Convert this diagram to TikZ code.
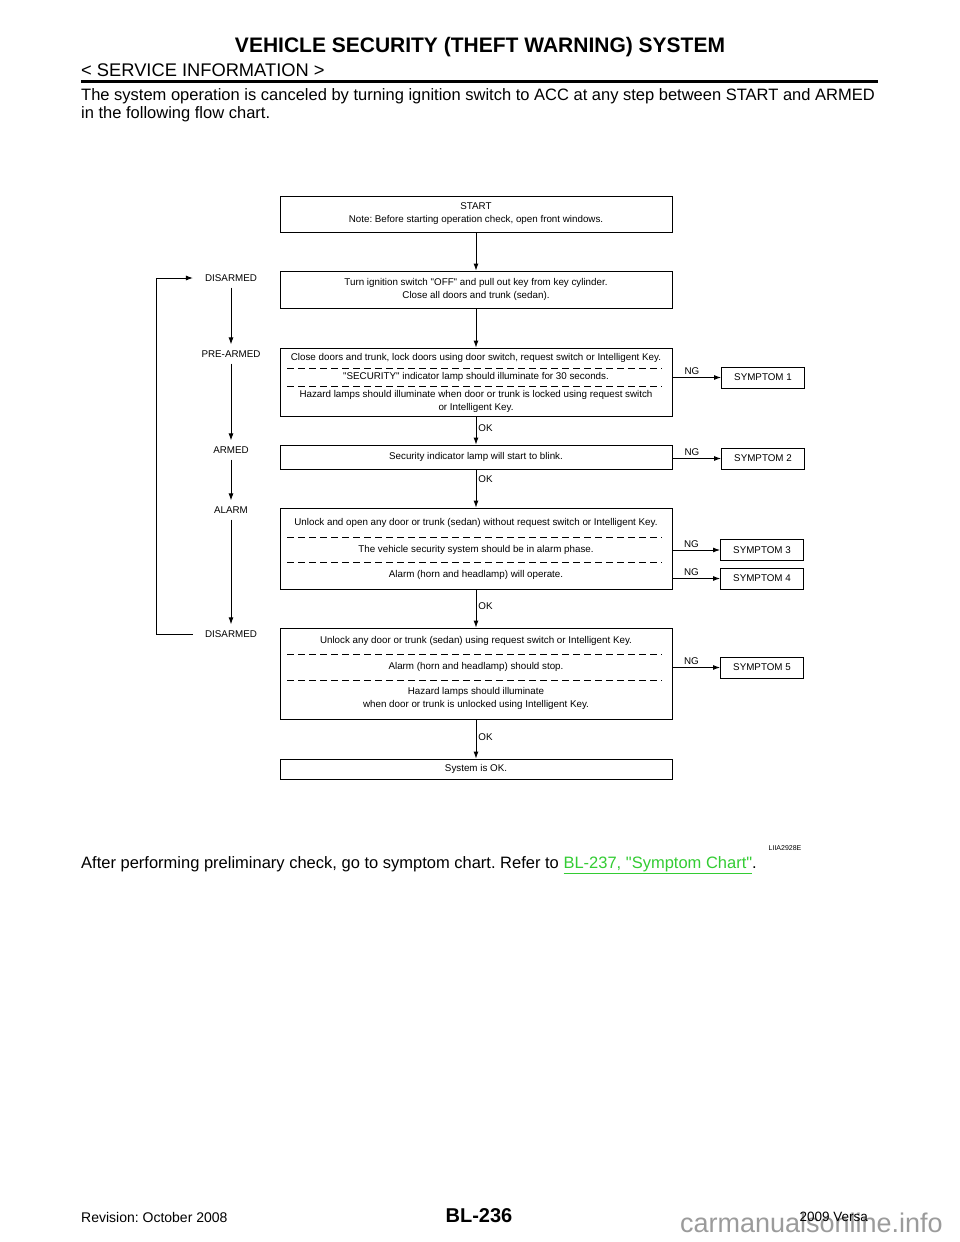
\documentclass[tikz,border=0pt]{standalone}
\usepackage{fontspec}
\setmainfont{Liberation Sans}
\usepackage{xcolor}
\usetikzlibrary{arrows.meta}
\definecolor{manualGreen}{RGB}{51, 204, 51}
\definecolor{manualGray}{RGB}{155, 155, 155}
\frenchspacing

\begin{document}
\begin{tikzpicture}[x=1pt, y=-1pt,
    stepbox/.style={draw, line width=0.9pt, minimum width=392pt, inner sep=0pt, align=center, font=\fontsize{9.8}{13}\selectfont},
    sympbox/.style={draw, line width=0.9pt, minimum width=83pt, minimum height=21pt, inner sep=0pt, font=\fontsize{9.8}{12}\selectfont},
    txt/.style={inner sep=0pt, align=center, font=\fontsize{9.8}{13}\selectfont},
    state/.style={inner xsep=12pt, inner ysep=6pt, font=\fontsize{9.8}{12}\selectfont},
    lbl/.style={inner sep=2pt, font=\fontsize{9.8}{12}\selectfont},
    flow/.style={line width=0.9pt, -{Latex[length=7pt, width=5pt]}},
    sep/.style={line width=0.7pt, dash pattern=on 7pt off 4pt}]
    \fill[white] (0,0) rectangle (960,1242);
    \useasboundingbox (0,0) rectangle (960,1242);

    \node[anchor=base, font=\bfseries\fontsize{21}{25}\selectfont] (title) at (480,52) {VEHICLE SECURITY (THEFT WARNING) SYSTEM};
    \node[anchor=base west, inner sep=0pt, font=\fontsize{18.3}{22}\selectfont] (section) at (81,76.5) {< SERVICE INFORMATION >};
    \draw[line width=2.5pt] (81,81.5) -- (878,81.5);
    \node[anchor=base west, inner sep=0pt, font=\fontsize{16.5}{18}\selectfont] (intro1) at (81,100) {The system operation is canceled by turning ignition switch to ACC at any step between START and ARMED};
    \node[anchor=base west, inner sep=0pt, font=\fontsize{16.5}{18}\selectfont] (intro2) at (81,118) {in the following flow chart.};

    \node[stepbox, minimum height=36pt] (start) at (476,214) {START\\Note: Before starting operation check, open front windows.};
    \node[stepbox, minimum height=37pt] (ignoff) at (476,289.5) {Turn ignition switch \textquotedbl OFF\textquotedbl{} and pull out key from key cylinder.\\Close all doors and trunk (sedan).};
    \node[stepbox, minimum height=68pt] (prearm) at (476,382) {};
    \node[txt] (prearm1) at (476,358) {Close doors and trunk, lock doors using door switch, request switch or Intelligent Key.};
    \node[txt] (prearm2) at (476,377) {\textquotedbl SECURITY\textquotedbl{} indicator lamp should illuminate for 30 seconds.};
    \node[txt] (prearm3) at (476,401.5) {Hazard lamps should illuminate when door or trunk is locked using request switch\\or Intelligent Key.};
    \node[stepbox, minimum height=24pt] (armed) at (476,457) {Security indicator lamp will start to blink.};
    \node[stepbox, minimum height=81pt] (alarm) at (476,548.5) {};
    \node[txt] (alarm1) at (476,523) {Unlock and open any door or trunk (sedan) without request switch or Intelligent Key.};
    \node[txt] (alarm2) at (476,550) {The vehicle security system should be in alarm phase.};
    \node[txt] (alarm3) at (476,575) {Alarm (horn and headlamp) will operate.};
    \node[stepbox, minimum height=91pt] (disarm) at (476,673.5) {};
    \node[txt] (disarm1) at (476,641) {Unlock any door or trunk (sedan) using request switch or Intelligent Key.};
    \node[txt] (disarm2) at (476,667) {Alarm (horn and headlamp) should stop.};
    \node[txt] (disarm3) at (476,698.5) {Hazard lamps should illuminate\\when door or trunk is unlocked using Intelligent Key.};
    \node[stepbox, minimum height=20pt] (sysok) at (476,769) {System is OK.};
    \foreach \y in {368,386,537,562,654,680}
        \draw[sep] (287,\y) -- (662,\y);

    \node[sympbox] (sym1) at (763,377.5) {SYMPTOM 1};
    \node[sympbox] (sym2) at (763,458.5) {SYMPTOM 2};
    \node[sympbox] (sym3) at (762,550) {SYMPTOM 3};
    \node[sympbox] (sym4) at (762,578.5) {SYMPTOM 4};
    \node[sympbox] (sym5) at (762,667.5) {SYMPTOM 5};

    \draw[flow] (start.south) -- (ignoff.north);
    \draw[flow] (ignoff.south) -- (prearm.north);
    \draw[flow] (prearm.south) -- node[lbl, right, pos=0.4] {OK} (armed.north);
    \draw[flow] (armed.south) -- node[lbl, right, pos=0.25] {OK} (alarm.north);
    \draw[flow] (alarm.south) -- node[lbl, right, pos=0.45] {OK} (disarm.north);
    \draw[flow] (disarm.south) -- node[lbl, right, pos=0.45] {OK} (sysok.north);
    \foreach \b/\s in {prearm/sym1, armed/sym2, alarm/sym3, alarm/sym4, disarm/sym5}
        \draw[flow] (\b.east |- \s) -- node[lbl, above, pos=0.4] {NG} (\s.west);

    \node[state] (dis1) at (231,278) {DISARMED};
    \node[state] (pre) at (231,354) {PRE-ARMED};
    \node[state] (arm) at (231,450) {ARMED};
    \node[state] (alm) at (231,510) {ALARM};
    \node[state] (dis2) at (231,634) {DISARMED};
    \foreach \a/\b in {dis1/pre, pre/arm, arm/alm, alm/dis2}
        \draw[flow] (\a) -- (\b);
    \draw[flow] (dis2.west) -- ++(-36,0) |- (dis1.west);

    \node[font=\fontsize{7}{8}\selectfont] (code) at (785,848) {LIIA2928E};
    \node[anchor=base west, inner sep=0pt, font=\fontsize{16.5}{18}\selectfont] (after) at (81,868) {After performing preliminary check, go to symptom chart. Refer to \textcolor{manualGreen}{\underline{BL-237, \textquotedbl Symptom Chart\textquotedbl}}.};

    \node[anchor=base east, inner sep=0pt, text=manualGray, font=\fontsize{27}{30}\selectfont] (mark) at (943,1232) {carmanualsonline.info};
    \node[anchor=base west, inner sep=0pt, font=\fontsize{14}{16}\selectfont] (rev) at (81,1222) {Revision: October 2008};
    \node[anchor=base, inner sep=0pt, font=\bfseries\fontsize{20}{22}\selectfont] (page) at (479,1222) {BL-236};
    \node[anchor=base east, inner sep=0pt, font=\fontsize{13.5}{15}\selectfont] (model) at (868,1221) {2009 Versa};
\end{tikzpicture}
\end{document}
